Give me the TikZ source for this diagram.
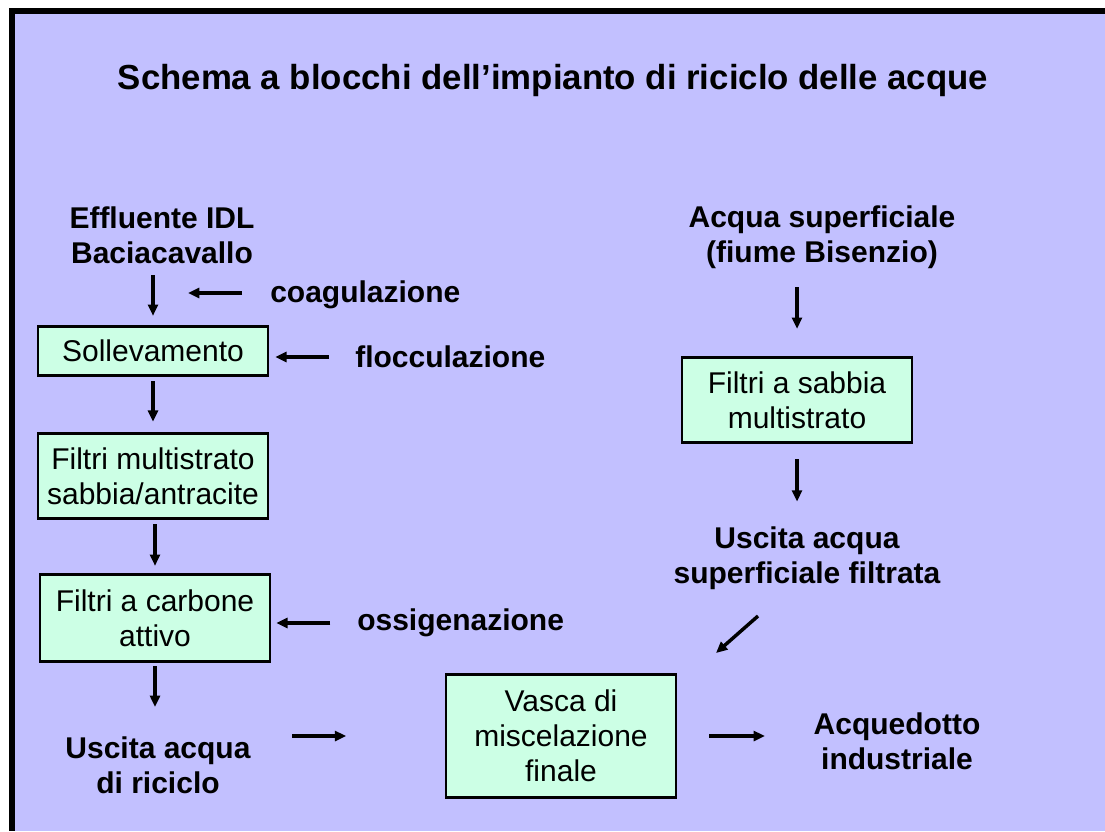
\documentclass[tikz,border=0pt]{standalone}
\usepackage{fontspec}
\setmainfont{Liberation Sans}
\usetikzlibrary{arrows.meta,calc}
\definecolor{sfondo}{RGB}{194,192,255}
\definecolor{verdino}{RGB}{204,255,229}
\tikzset{
  blocco/.style={draw=black, line width=1.8pt, fill=verdino, minimum width=172.5pt,
    align=center, inner sep=0pt, font=\fontsize{22.5}{26.25}\selectfont},
  etichetta/.style={align=center, inner sep=0pt, font=\fontsize{22.5}{26.25}\selectfont\bfseries},
  freccia/.style={line width=2.6pt, -{Triangle[length=8.5pt,width=7.5pt]}}
}
\begin{document}
\begin{tikzpicture}[x=0.75pt, y=-0.75pt]
\useasboundingbox (0,0) rectangle (1105,831);
% Sfondo e cornice
\fill[white] (0,0) rectangle (1105,831);
\fill[black] (9,8) rectangle (1105,831);
\fill[sfondo] (15,14) rectangle (1105,831);

% Titolo
\node[etichetta, font=\fontsize{26.1}{30}\selectfont\bfseries] (titolo) at (553,81)
  {Schema a blocchi dell’impianto di riciclo delle acque};

% Linea di sinistra
\node[etichetta] (effl) at (162,235) {Effluente IDL\\Baciacavallo};
\node[blocco, minimum height=36.75pt] (soll) at (153,351) {Sollevamento};
\node[blocco, minimum height=63.75pt] (fmulti) at (153,476) {Filtri multistrato\\sabbia/antracite};
\node[blocco, minimum height=65.25pt] (fcarb) at (155,618) {Filtri a carbone\\attivo};
\node[etichetta] (usric) at (158,765) {Uscita acqua\\di riciclo};

% Reagenti
\node[etichetta, anchor=west] (coag) at (270,295) {coagulazione};
\node[etichetta, anchor=west] (flocc) at (355,357) {flocculazione};
\node[etichetta, anchor=west] (ossig) at (357,623) {ossigenazione};
\coordinate (coagfine) at (188,293);

% Linea di destra
\node[etichetta] (acqsup) at (822,237) {Acqua superficiale\\(fiume Bisenzio)};
\node[blocco, minimum height=63.75pt] (fsabbia) at (797,400) {Filtri a sabbia\\multistrato};
\node[etichetta] (ussup) at (807,558) {Uscita acqua\\superficiale filtrata};

% Miscelazione
\node[blocco, minimum height=92.25pt] (vasca) at (561,736) {Vasca di\\miscelazione\\finale};
\node[etichetta] (acqued) at (897,741) {Acquedotto\\industriale};
\coordinate (diaginizio) at (758,616);
\coordinate (diagfine) at (716,653);

% Frecce
\draw[freccia, shorten <=8.6pt, shorten >=7.1pt] (soll.north |- effl.south) -- (soll.north);
\draw[freccia, shorten <=3.4pt, shorten >=7.9pt] (soll.south) -- (fmulti.north);
\draw[freccia, shorten <=3.4pt, shorten >=5.6pt] (fcarb.north |- fmulti.south) -- (fcarb.north);
\draw[freccia, shorten <=2.6pt, shorten >=22pt] (fcarb.south) -- (fcarb.south |- usric.north);
\draw[freccia, shorten <=21pt] (coag.west |- coagfine) -- (coagfine);
\draw[freccia, shorten <=19.5pt, shorten >=4.5pt] (flocc.west) -- (flocc.west -| soll.east);
\draw[freccia, shorten <=20pt, shorten >=3.75pt] (ossig.west) -- (ossig.west -| fcarb.east);
\draw[freccia, shorten <=31pt, shorten >=74pt] (vasca.west -| usric.east) -- (vasca.west);
\draw[freccia, shorten <=24pt, shorten >=36.4pt] (vasca.east) -- (vasca.east -| acqued.west);
\draw[freccia, shorten <=13.8pt, shorten >=20.6pt] (fsabbia.north |- acqsup.south) -- (fsabbia.north);
\draw[freccia, shorten <=11.6pt, shorten >=18.5pt] (fsabbia.south) -- (fsabbia.south |- ussup.north);
\draw[freccia] (diaginizio) -- (diagfine);
\end{tikzpicture}
\end{document}
